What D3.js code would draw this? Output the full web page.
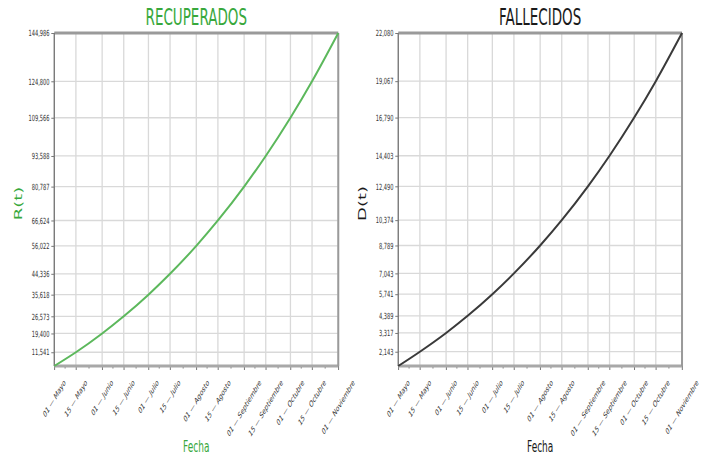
<!DOCTYPE html>
<html>
<head>
<meta charset="utf-8">
<script src="https://cdn.jsdelivr.net/npm/d3@7"></script>
<style>
  html, body { margin: 0; padding: 0; background: #fff; }
  svg { display: block; }
  text { font-family: "DejaVu Sans", sans-serif; }
  .ns { vector-effect: non-scaling-stroke; }
</style>
</head>
<body>
<svg id="chart" width="704" height="456"></svg>
<script>
// Fechas de corte (2020) y etiquetas del eje X
const fechas = ["2020-05-01", "2020-05-15", "2020-06-01", "2020-06-15", "2020-07-01", "2020-07-15",
                "2020-08-01", "2020-08-15", "2020-09-01", "2020-09-15", "2020-10-01", "2020-10-15",
                "2020-11-01"];
const etiquetasFecha = ["01 — Mayo", "15 — Mayo", "01 — Junio", "15 — Junio", "01 — Julio", "15 — Julio",
                        "01 — Agosto", "15 — Agosto", "01 — Septiembre", "15 — Septiembre",
                        "01 — Octubre", "15 — Octubre", "01 — Noviembre"];
// Valores del modelo en cada fecha
const recuperados = [5800, 11541, 19400, 26573, 35618, 44336, 56022, 66624, 80787, 93588, 109566, 124800, 144986];
const fallecidos  = [1250, 2143, 3317, 4389, 5741, 7043, 8789, 10374, 12490, 14403, 16790, 19067, 22080];

// The figure is drawn in a wider coordinate space and compressed horizontally
const SQ = 0.6;
const VW = 704 / SQ, VH = 456;
const svg = d3.select("#chart")
  .attr("viewBox", `0 0 ${VW} ${VH}`)
  .attr("preserveAspectRatio", "none");

const parse = d3.timeParse("%Y-%m-%d");
const dates = fechas.map(parse);
const yTop = 33, yBottom = 366;

const paneles = [
  { titulo: "RECUPERADOS", ylab: "R(t)", valores: recuperados, color: "#38a83c", linea: "#5cb85c", x0: 90.5, x1: 563.8 },
  { titulo: "FALLECIDOS",  ylab: "D(t)", valores: fallecidos,  color: "#1a1a1a", linea: "#3a3a3a", x0: 663.8, x1: 1136.7 }
];

paneles.forEach(p => {
  const g = svg.append("g");
  const x = d3.scaleTime().domain([dates[0], dates[dates.length - 1]]).range([p.x0, p.x1]);
  const y = d3.scaleLinear().domain([p.valores[0], p.valores[p.valores.length - 1]]).range([yBottom, yTop]);
  const yTicks = p.valores.slice(1);

  // grid
  g.append("g").selectAll("line").data(dates).join("line")
    .attr("class", "ns")
    .attr("x1", d => x(d)).attr("x2", d => x(d))
    .attr("y1", yTop).attr("y2", yBottom)
    .attr("stroke", "#d9d9d9").attr("stroke-width", 1.3);
  g.append("g").selectAll("line").data(yTicks).join("line")
    .attr("class", "ns")
    .attr("x1", p.x0).attr("x2", p.x1)
    .attr("y1", d => y(d)).attr("y2", d => y(d))
    .attr("stroke", "#d9d9d9").attr("stroke-width", 1.3);

  // y axis
  const ay = g.append("g").attr("transform", `translate(${p.x0},0)`)
    .call(d3.axisLeft(y).tickValues(yTicks).tickFormat(d3.format(",")).tickSize(5).tickPadding(3).tickSizeOuter(0));
  ay.select(".domain").remove();
  ay.selectAll(".tick line").attr("class", "ns").attr("stroke", "#777").attr("stroke-width", 1);
  ay.selectAll(".tick text").attr("font-size", 8.5).attr("fill", "#333").attr("font-family", "DejaVu Sans");

  // minor ticks halfway between the dated ticks
  const minors = d3.pairs(dates).map(([a, b]) => new Date((+a + +b) / 2));
  g.append("g").selectAll("line").data(minors).join("line")
    .attr("class", "ns")
    .attr("x1", d => x(d)).attr("x2", d => x(d))
    .attr("y1", yBottom).attr("y2", yBottom + 2.5)
    .attr("stroke", "#777").attr("stroke-width", 1);

  // x axis
  const ax = g.append("g").attr("transform", `translate(0,${yBottom})`)
    .call(d3.axisBottom(x).tickValues(dates).tickFormat("").tickSize(4).tickSizeOuter(0));
  ax.select(".domain").remove();
  ax.selectAll(".tick line").attr("class", "ns").attr("stroke", "#777").attr("stroke-width", 1);

  // rotated date labels, centred under each tick
  const fs = 8.8;
  const lab = g.append("g").selectAll("text").data(dates).join("text")
    .attr("font-size", fs).attr("fill", "#333")
    .attr("text-anchor", "middle").attr("dominant-baseline", "central")
    .text((d, i) => etiquetasFecha[i]);
  lab.attr("transform", function(d) {
    const len = this.getComputedTextLength();
    const h = (len + fs) * Math.SQRT1_2;
    return `translate(${x(d)},${378 + h / 2}) rotate(-45)`;
  });

  // frame
  g.append("line").attr("class", "ns").attr("x1", p.x0).attr("x2", p.x1).attr("y1", yTop).attr("y2", yTop)
    .attr("stroke", "#9a9a9a").attr("stroke-width", 3);
  g.append("line").attr("class", "ns").attr("x1", p.x0).attr("x2", p.x1).attr("y1", yBottom).attr("y2", yBottom)
    .attr("stroke", "#a8a8a8").attr("stroke-width", 3);
  g.append("line").attr("class", "ns").attr("x1", p.x0).attr("x2", p.x0).attr("y1", yTop).attr("y2", yBottom)
    .attr("stroke", "#777").attr("stroke-width", 1.3);
  g.append("line").attr("class", "ns").attr("x1", p.x1).attr("x2", p.x1).attr("y1", yTop).attr("y2", yBottom)
    .attr("stroke", "#9a9a9a").attr("stroke-width", 2);

  // curve
  const serie = dates.map((d, i) => ({ d, v: p.valores[i] }));
  g.append("path").datum(serie).attr("class", "ns")
    .attr("fill", "none").attr("stroke", p.linea).attr("stroke-width", 2)
    .attr("d", d3.line().x(s => x(s.d)).y(s => y(s.v)).curve(d3.curveMonotoneX));

  // titles and axis labels
  const cx = (p.x0 + p.x1) / 2;
  g.append("text").attr("x", cx).attr("y", 25).attr("text-anchor", "middle")
    .attr("font-size", 22.5).attr("fill", p.color).text(p.titulo);
  g.append("text").attr("x", cx).attr("y", 452).attr("text-anchor", "middle")
    .attr("font-size", 15).attr("fill", p.color).text("Fecha");
  g.append("text")
    .attr("transform", `translate(${p.x0 - 60},${(yTop + yBottom) / 2 + 4}) rotate(-90)`)
    .attr("text-anchor", "middle").attr("dominant-baseline", "central")
    .attr("font-size", 18).attr("fill", p.color).text(p.ylab);
});
</script>
</body>
</html>
